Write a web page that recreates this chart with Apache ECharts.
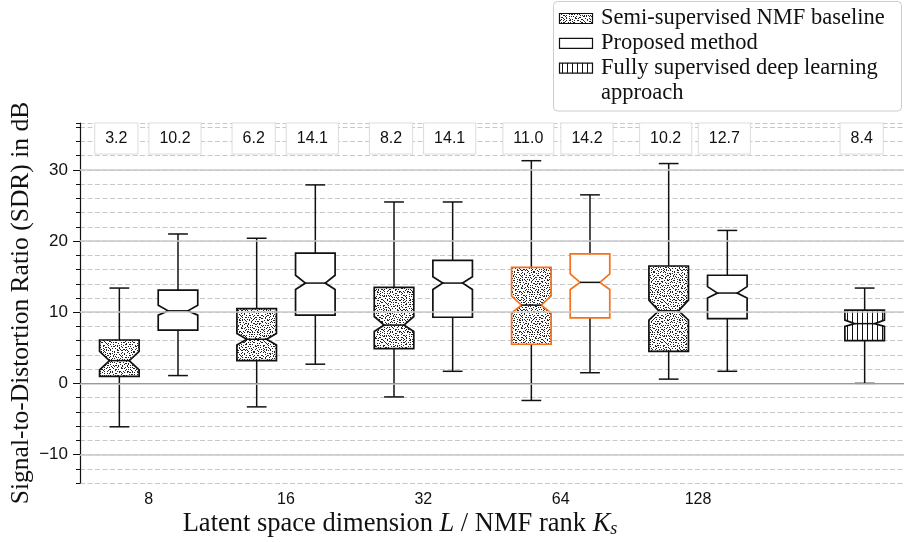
<!DOCTYPE html>
<html>
<head>
<meta charset="utf-8">
<script src="https://cdn.jsdelivr.net/npm/echarts@6/dist/echarts.min.js"></script>
<style>
html, body { margin: 0; padding: 0; background: #fff; }
#chart { width: 904px; height: 542px; }
</style>
</head>
<body>
<div id="chart"></div>
<script>
// x categories (last slot only holds the supervised box)
var categories = ['8', '16', '32', '64', '128', ''];
var seriesNames = ['Semi-supervised NMF baseline', 'Proposed method', 'Fully supervised deep learning approach'];
// [category index, lower whisker, Q1, notch low, median, notch high, Q3, upper whisker]
var nmfBoxes = [
	[0, -6.1, 1.0, 1.9, 3.2, 4.5, 6.1, 13.4],
	[1, -3.3, 3.2, 5.4, 6.2, 7.0, 10.5, 20.4],
	[2, -1.9, 4.9, 7.3, 8.2, 9.4, 13.5, 25.5],
	[3, -2.4, 5.5, 9.9, 11.0, 12.3, 16.3, 31.3],
	[4, 0.6, 4.5, 8.9, 10.2, 11.7, 16.5, 30.9]
];
var proposedBoxes = [
	[0, 1.1, 7.5, 9.6, 10.2, 11.0, 13.1, 21.0],
	[1, 2.7, 9.6, 13.2, 14.1, 15.2, 18.3, 27.9],
	[2, 1.7, 9.3, 13.2, 14.1, 15.0, 17.3, 25.5],
	[3, 1.5, 9.2, 13.2, 14.2, 15.4, 18.2, 26.5],
	[4, 1.7, 9.1, 12.0, 12.7, 13.6, 15.2, 21.5]
];
var supervisedBoxes = [
	[5, 0.0, 6.0, 8.0, 8.4, 8.9, 10.3, 13.4]
];
var highlightCategory = 3;
var yMajorTicks = [-10, 0, 10, 20, 30];

var SERIF = '"Liberation Serif", "Times New Roman", serif',
	SANS = '"Liberation Sans", Arial, sans-serif',
	INK = '#111',
	ORANGE = '#f5711c',
	GRID = '#c8c8c8',
	boxOffset = 0.2135,
	boxWidth = 0.288;

/*填充纹理: stipple, one dot per 2x2 cell at a hashed spot (fixed, not random)*/
function dotPattern() {
	var n = 40, c = document.createElement('canvas');
	c.width = n; c.height = n;
	var g = c.getContext('2d');
	g.fillStyle = '#fff';
	g.fillRect(0, 0, n, n);
	g.fillStyle = '#222';
	for (var i = 0; i < n; i += 2) {
		for (var j = 0; j < n; j += 2) {
			var h = Math.sin(i * 12.9898 + j * 78.233) * 43758.5453;
			h = Math.floor((h - Math.floor(h)) * 4);
			g.fillRect(i + (h & 1), j + (h >> 1), 1, 1);
		}
	}
	return { image: c, repeat: 'repeat' };
}
function stripePattern() {
	var c = document.createElement('canvas');
	c.width = 5; c.height = 4;
	var g = c.getContext('2d');
	g.fillStyle = '#fff';
	g.fillRect(0, 0, 5, 4);
	g.fillStyle = '#111';
	g.fillRect(2, 0, 1, 4);
	return { image: c, repeat: 'repeat' };
}
var dots = dotPattern(), stripes = stripePattern();

function boxRenderer(offset, fill) {
	return function (params, api) {
		var cat = api.value(0),
			band = api.size([1, 0])[0],
			cx = api.coord([cat, 0])[0] + offset * band,
			hw = band * boxWidth / 2,
			y = function (i) { return api.coord([cat, api.value(i)])[1]; },
			lo = y(1), q1 = y(2), nlo = y(3), med = y(4), nhi = y(5), q3 = y(6), hi = y(7),
			edge = cat === highlightCategory ? ORANGE : INK,
			wl = { stroke: INK, lineWidth: 1.5 };
		return {
			type: 'group',
			children: [
				{ type: 'line', shape: { x1: cx, y1: hi, x2: cx, y2: q3 }, style: wl },
				{ type: 'line', shape: { x1: cx, y1: q1, x2: cx, y2: lo }, style: wl },
				{ type: 'line', shape: { x1: cx - hw / 2, y1: hi, x2: cx + hw / 2, y2: hi }, style: wl },
				{ type: 'line', shape: { x1: cx - hw / 2, y1: lo, x2: cx + hw / 2, y2: lo }, style: wl },
				{
					type: 'polygon',
					shape: { points: [
						[cx - hw, q1], [cx + hw, q1], [cx + hw, nlo], [cx + hw / 2, med], [cx + hw, nhi],
						[cx + hw, q3], [cx - hw, q3], [cx - hw, nhi], [cx - hw / 2, med], [cx - hw, nlo]
					] },
					style: { fill: fill, stroke: edge, lineWidth: 1.7, lineJoin: 'miter' }
				},
				{ type: 'line', shape: { x1: cx - hw / 2, y1: med, x2: cx + hw / 2, y2: med }, style: wl },
				{
					type: 'text',
					style: {
						text: api.value(4).toFixed(1),
						x: cx - 3, y: params.coordSys.y + 15.5,
						align: 'center', verticalAlign: 'middle',
						font: '16px ' + SANS, fill: INK,
						backgroundColor: '#fff', borderColor: '#dcdcdc', borderWidth: 1,
						padding: [6, 10], lineHeight: 18
					}
				}
			]
		};
	};
}

//图例
var legendGraphic = [
	{ type: 'rect', shape: { x: 553.5, y: 1.5, width: 348, height: 109.5, r: 4 }, style: { fill: '#fff', stroke: '#cccccc', lineWidth: 1 } }
];
[dots, '#fff', stripes].forEach(function (f, i) {
	var cy = 18.5 + i * 24.8;
	legendGraphic.push({ type: 'rect', shape: { x: 559.5, y: cy - 5, width: 33, height: 10 }, style: { fill: f, stroke: INK, lineWidth: 1.2 } });
});
var legendLines = [seriesNames[0], seriesNames[1], 'Fully supervised deep learning', 'approach'];
legendLines.forEach(function (t, i) {
	legendGraphic.push({ type: 'text', style: { text: t, x: 601, y: 18.5 + i * 24.8, verticalAlign: 'middle', font: '22.5px ' + SERIF, fill: INK } });
});

var option = {
	backgroundColor: '#fff',
	animation: false,
	grid: { left: 80, right: 0, top: 123, bottom: 59, outerBoundsMode: 'none', containLabel: false },
	xAxis: {
		type: 'category',
		data: categories,
		boundaryGap: true,
		axisLine: { lineStyle: { color: INK, width: 1.2 } },
		axisTick: { alignWithLabel: true, length: 5, lineStyle: { color: INK }, interval: function (i) { return i < 5; } },
		axisLabel: { color: INK, fontFamily: SANS, fontSize: 16, margin: 9, interval: 0 },
		splitLine: { show: false },
		name: '{n|Latent space dimension }{i|L}{n| / NMF rank }{i|K}{s|s}',
		nameLocation: 'middle',
		nameGap: 27,
		nameMoveOverlap: false,
		nameTextStyle: {
			padding: [0, 184, 0, 0],
			rich: {
				n: { fontFamily: SERIF, fontSize: 26.5, color: INK },
				i: { fontFamily: SERIF, fontSize: 26.5, fontStyle: 'italic', color: INK },
				s: { fontFamily: SERIF, fontSize: 18, fontStyle: 'italic', color: INK, padding: [10, 0, 0, 0] }
			}
		}
	},
	yAxis: [{
		type: 'value',
		min: -14, max: 36.6, interval: 2,
		axisLine: { show: true, lineStyle: { color: INK, width: 1.2 } },
		axisTick: { show: true, length: 4, lineStyle: { color: INK } },
		axisLabel: {
			color: INK, fontFamily: SANS, fontSize: 17, margin: 12,
			formatter: function (v) { return v % 10 === 0 ? String(v).replace('-', '\u2212') : ''; }
		},
		splitLine: { show: true, lineStyle: { color: GRID, width: 1.2, type: [5, 2.5] } },
		name: 'Signal-to-Distortion Ratio (SDR) in dB',
		nameLocation: 'middle',
		nameGap: 46,
		nameMoveOverlap: false,
		nameTextStyle: { fontFamily: SERIF, fontSize: 25.5, color: INK }
	}, {
		type: 'value',
		min: -14, max: 36.6, interval: 2,
		position: 'left',
		axisLine: { show: false },
		axisTick: { show: true, length: 7, customValues: yMajorTicks, lineStyle: { color: INK } },
		axisLabel: { show: false },
		splitLine: { show: false }
	}],
	graphic: legendGraphic,
	series: [{
		type: 'line',
		data: [],
		z: 1,
		silent: true,
		markLine: {
			silent: true,
			symbol: 'none',
			label: { show: false },
			lineStyle: { color: GRID, width: 1.6, type: 'solid' },
			data: yMajorTicks.map(function (v) { return { yAxis: v }; })
		}
	}, {
		name: seriesNames[0], type: 'custom', z: 3,
		renderItem: boxRenderer(-boxOffset, dots),
		encode: { x: 0, y: [1, 7] },
		data: nmfBoxes
	}, {
		name: seriesNames[1], type: 'custom', z: 3,
		renderItem: boxRenderer(boxOffset, '#fff'),
		encode: { x: 0, y: [1, 7] },
		data: proposedBoxes
	}, {
		name: seriesNames[2], type: 'custom', z: 3,
		renderItem: boxRenderer(boxOffset, stripes),
		encode: { x: 0, y: [1, 7] },
		data: supervisedBoxes
	}]
};

var myChart = echarts.init(document.getElementById('chart'));
myChart.setOption(option);
</script>
</body>
</html>
